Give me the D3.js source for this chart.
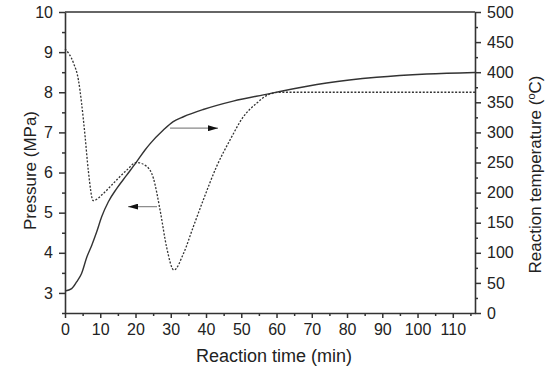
<!DOCTYPE html>
<html>
<head>
<meta charset="utf-8">
<script src="https://cdn.jsdelivr.net/npm/d3@7"></script>
<style>
  body { margin: 0; background: #fff; }
  text { font-family: "Liberation Sans", Arial, sans-serif; fill: #222; }
</style>
</head>
<body>
<div id="chart"></div>
<script>
// pressure (dashed, left axis)
const pTime = [0, 2.4, 3.8, 4.7, 5.7, 6.6, 8.0, 10.9, 13.7, 17.5, 20.3, 23.2, 25.1, 27, 28.8, 30.9, 33.6, 36.4, 39.2, 43, 46.8, 50.6, 54.4, 57.7, 61, 70, 116.3];
const pressure = [9.08, 8.73, 8.31, 7.73, 6.9, 6.06, 5.3, 5.48, 5.73, 6.06, 6.25, 6.15, 5.85, 5.05, 4.15, 3.57, 3.98, 4.65, 5.31, 6.15, 6.81, 7.39, 7.73, 7.94, 8.0, 8.0, 8.0];

// temperature (solid, right axis)
const tTime = [0, 1.9, 3.3, 4.7, 6.2, 7.6, 9.0, 10.4, 12.3, 14.7, 17.5, 20.3, 22.7, 24.1, 27.9, 30.7, 33.6, 39.2, 47.7, 57.7, 61, 74.2, 88.4, 102.6, 116.3];
const temperature = [36.6, 40.6, 51.6, 65.6, 93, 112.7, 134.8, 159.8, 184.8, 207, 229, 251, 270.8, 281, 304, 318, 326, 338, 352, 364, 368, 382, 391.5, 397, 399.6];

const xTicks = [0, 10, 20, 30, 40, 50, 60, 70, 80, 90, 100, 110];
const leftTicks = [3, 4, 5, 6, 7, 8, 9, 10];
const rightTicks = [0, 50, 100, 150, 200, 250, 300, 350, 400, 450, 500];

// annotation arrows [x0, x1, y]
const arrowToRight = [29.8, 43.4, 307];   // on temperature scale
const arrowToLeft = [26.1, 17.9, 5.15];   // on pressure scale

const w = 550, h = 374;
const margin = {top: 12, right: 75, bottom: 61, left: 65};
const iw = w - margin.left - margin.right,
      ih = h - margin.top - margin.bottom;

const svg = d3.select("#chart")
  .append("svg")
  .attr("width", w)
  .attr("height", h)
  .append("g")
  .attr("transform", "translate(" + margin.left + "," + margin.top + ")");

const x = d3.scaleLinear().domain([0, 116.3]).range([0, iw]);
const yL = d3.scaleLinear().domain([2.5, 10]).range([ih, 0]);
const yR = d3.scaleLinear().domain([0, 500]).range([ih, 0]);

const axisColor = "#333";

// minor ticks first, then major axes on top
function minor(axis, scale, vals, g) {
  g.call(axis(scale).tickValues(vals).tickSize(3).tickFormat(""));
  g.select(".domain").remove();
  g.selectAll("line").attr("stroke", axisColor).attr("stroke-width", 1.5);
}

const xMinor = d3.range(5, 116, 10);
const lMinor = d3.range(2.5, 10, 1);
const rMinor = d3.range(25, 500, 50);

minor(d3.axisBottom, x, xMinor, svg.append("g").attr("transform", "translate(0," + ih + ")"));
minor(d3.axisLeft, yL, lMinor, svg.append("g"));
minor(d3.axisRight, yR, rMinor, svg.append("g").attr("transform", "translate(" + iw + ",0)"));

function styleAxis(g) {
  g.select(".domain").attr("stroke", axisColor).attr("stroke-width", 1.6);
  g.selectAll(".tick line").attr("stroke", axisColor).attr("stroke-width", 1.5);
  g.selectAll(".tick text").style("font-size", "16px").attr("fill", "#222");
}

svg.append("g")
  .attr("transform", "translate(0," + ih + ")")
  .call(d3.axisBottom(x).tickValues(xTicks).tickSize(5).tickSizeOuter(0).tickPadding(6))
  .call(styleAxis);

svg.append("g")
  .call(d3.axisLeft(yL).tickValues(leftTicks).tickSize(6).tickSizeOuter(0).tickPadding(6))
  .call(styleAxis);

svg.append("g")
  .attr("transform", "translate(" + iw + ",0)")
  .call(d3.axisRight(yR).tickValues(rightTicks).tickSize(6).tickSizeOuter(0).tickPadding(6))
  .call(styleAxis);

// top frame line
svg.append("line")
  .attr("x1", 0).attr("x2", iw)
  .attr("y1", 0).attr("y2", 0)
  .attr("stroke", axisColor)
  .attr("stroke-width", 1.6);

// curves
const pLine = d3.line()
  .x((d, i) => x(pTime[i]))
  .y(d => yL(d))
  .curve(d3.curveMonotoneX);

const tLine = d3.line()
  .x((d, i) => x(tTime[i]))
  .y(d => yR(d))
  .curve(d3.curveMonotoneX);

svg.append("path")
  .datum(temperature)
  .attr("d", tLine)
  .attr("fill", "none")
  .attr("stroke", "#333")
  .attr("stroke-width", 1.4);

svg.append("path")
  .datum(pressure)
  .attr("d", pLine)
  .attr("fill", "none")
  .attr("stroke", "#333")
  .attr("stroke-width", 1.3)
  .attr("stroke-dasharray", "2,1.6");

// arrows
svg.append("defs").append("marker")
  .attr("id", "head")
  .attr("viewBox", "0 0 10 6")
  .attr("refX", 10).attr("refY", 3)
  .attr("markerWidth", 10).attr("markerHeight", 6)
  .attr("markerUnits", "userSpaceOnUse")
  .attr("orient", "auto")
  .append("path")
  .attr("d", "M0,0 L10,3 L0,6 Z")
  .attr("fill", "#111");

svg.append("line")
  .attr("x1", x(arrowToRight[0])).attr("x2", x(arrowToRight[1]))
  .attr("y1", yR(arrowToRight[2])).attr("y2", yR(arrowToRight[2]))
  .attr("stroke", "#888").attr("stroke-width", 1.2)
  .attr("marker-end", "url(#head)");

svg.append("line")
  .attr("x1", x(arrowToLeft[0])).attr("x2", x(arrowToLeft[1]))
  .attr("y1", yL(arrowToLeft[2])).attr("y2", yL(arrowToLeft[2]))
  .attr("stroke", "#888").attr("stroke-width", 1.2)
  .attr("marker-end", "url(#head)");

// axis titles
svg.append("text")
  .attr("x", iw / 2 + 4)
  .attr("y", ih + 49)
  .attr("text-anchor", "middle")
  .style("font-size", "18px")
  .text("Reaction time (min)");

svg.append("text")
  .attr("transform", "translate(" + (-29) + "," + (ih / 2 + 8) + ") rotate(-90)")
  .attr("text-anchor", "middle")
  .style("font-size", "17px")
  .text("Pressure (MPa)");

const rt = svg.append("text")
  .attr("transform", "translate(" + (iw + 66) + "," + (ih / 2 + 12) + ") rotate(-90)")
  .attr("text-anchor", "middle")
  .style("font-size", "17px");
rt.append("tspan").text("Reaction temperature (");
rt.append("tspan").attr("dy", -6).style("font-size", "11px").text("o");
rt.append("tspan").attr("dy", 6).text("C)");
</script>
</body>
</html>
